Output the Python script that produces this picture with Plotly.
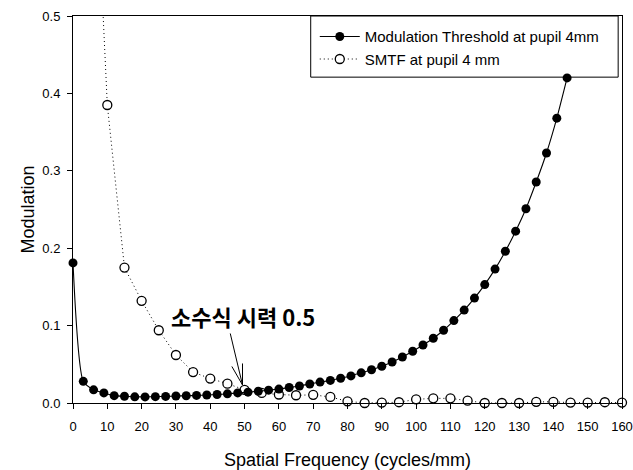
import plotly.graph_objects as go

# Modulation Threshold at pupil 4mm (filled circles)
mt_x = [0, 3, 6, 9, 12, 15, 18, 21, 24, 27, 30, 33, 36, 39, 42, 45, 48, 51, 54, 57,
        60, 63, 66, 69, 72, 75, 78, 81, 84, 87, 90, 93, 96, 99, 102, 105, 108, 111,
        114, 117, 120, 123, 126, 129, 132, 135, 138, 141, 144]
mt_y = [0.181, 0.028, 0.017, 0.013, 0.0095, 0.0087, 0.0080, 0.0079, 0.0082, 0.0085,
        0.0090, 0.0093, 0.0098, 0.0103, 0.0110, 0.0118, 0.0130, 0.0140, 0.0152, 0.0166,
        0.0180, 0.0200, 0.0220, 0.0245, 0.0270, 0.0292, 0.0320, 0.0350, 0.0390, 0.0430,
        0.0475, 0.0530, 0.0595, 0.0669, 0.0750, 0.0837, 0.0940, 0.1065, 0.1200, 0.1355,
        0.1530, 0.1730, 0.1960, 0.2220, 0.2510, 0.2855, 0.3230, 0.3680, 0.4200]

# SMTF at pupil 4 mm (open circles)
smtf_x = [5, 10, 15, 20, 25, 30, 35, 40, 45, 50, 55, 60, 65, 70, 75, 80, 85, 90, 95,
          100, 105, 110, 115, 120, 125, 130, 135, 140, 145, 150, 155, 160]
smtf_y = [0.86, 0.385, 0.175, 0.132, 0.094, 0.062, 0.040, 0.0315, 0.025, 0.017, 0.013,
          0.011, 0.010, 0.0105, 0.0078, 0.0022, 0.0, 0.0005, 0.001, 0.0047, 0.006,
          0.006, 0.003, 0.0, 0.0, 0.0, 0.0015, 0.0015, 0.0005, 0.0005, 0.001, 0.0005]

x_ticks = [0, 10, 20, 30, 40, 50, 60, 70, 80, 90, 100, 110, 120, 130, 140, 150, 160]
y_ticks = [0.0, 0.1, 0.2, 0.3, 0.4, 0.5]

name_mt = "Modulation Threshold at pupil 4mm"
name_smtf = "SMTF at pupil 4 mm"
note_text = "소수식 시력 0.5"
note_pos = (49.5, 0.1125)
arrow_tip = (49.4, 0.0233)

FONT = "Liberation Sans, Arial, sans-serif"
Y_MAX = 0.5

fig = go.Figure()

# SMTF dotted line (clipped by axes)
fig.add_trace(go.Scatter(x=smtf_x, y=smtf_y, mode="lines", showlegend=False,
                         line=dict(color="black", width=1, dash="1px,3px")))
# SMTF markers (only in-range points)
in_pts = [(x, y) for x, y in zip(smtf_x, smtf_y) if y <= Y_MAX]
fig.add_trace(go.Scatter(x=[p[0] for p in in_pts], y=[p[1] for p in in_pts], mode="markers",
                         showlegend=False, cliponaxis=False,
                         marker=dict(symbol="circle", size=9, color="white",
                                     line=dict(color="black", width=1.3))))
# Modulation threshold
fig.add_trace(go.Scatter(x=mt_x, y=mt_y, mode="lines+markers", showlegend=False,
                         cliponaxis=False,
                         line=dict(color="black", width=1.1, shape="spline", smoothing=0.6),
                         marker=dict(symbol="circle", size=9, color="black")))

# legend proxies
fig.add_trace(go.Scatter(x=[None], y=[None], mode="lines+markers", name=name_mt,
                         line=dict(color="black", width=1.2),
                         marker=dict(symbol="circle", size=9, color="black")))
fig.add_trace(go.Scatter(x=[None], y=[None], mode="lines+markers", name=name_smtf,
                         line=dict(color="black", width=1, dash="1px,3px"),
                         marker=dict(symbol="circle", size=9, color="white",
                                     line=dict(color="black", width=1.3))))

# arrow: shaft and two barbs (pixel offsets from the tip)
for ax, ay in [(-12.6, -53), (0, -23), (-11.5, -20)]:
    fig.add_annotation(x=arrow_tip[0], y=arrow_tip[1], xref="x", yref="y", text="",
                       showarrow=True, ax=ax, ay=ay, arrowhead=0, arrowwidth=1,
                       arrowcolor="black", standoff=0, startstandoff=0)
fig.add_annotation(x=note_pos[0], y=note_pos[1], xref="x", yref="y",
                   text="<b>" + note_text + "</b>", showarrow=False,
                   font=dict(family="Noto Sans CJK KR", size=22, color="black"))

# legend frame
fig.add_shape(type="rect", xref="paper", yref="paper", x0=0.433, x1=0.993, y0=0.842, y1=1.0,
              line=dict(color="black", width=1), fillcolor="white", layer="below")

axis_common = dict(showline=True, linecolor="black", linewidth=1, mirror=True,
                   ticks="outside", ticklen=5, tickcolor="black", showgrid=False,
                   zeroline=False, tickfont=dict(family=FONT, size=13, color="black"))

fig.update_xaxes(range=[0, 160], tickvals=x_ticks, ticklabeloverflow="allow",
                 ticklabelstandoff=6,
                 title=dict(text="Spatial Frequency (cycles/mm)",
                            font=dict(family=FONT, size=18, color="black"), standoff=20),
                 **axis_common)
fig.update_yaxes(range=[0, Y_MAX], tickvals=y_ticks, tickformat=".1f", ticklabelstandoff=4,
                 title=dict(text="Modulation", font=dict(family=FONT, size=18, color="black"),
                            standoff=3),
                 **axis_common)

fig.update_layout(
    width=633, height=470,
    margin=dict(l=73, r=11, t=16, b=67, autoexpand=False),
    plot_bgcolor="white", paper_bgcolor="white",
    font=dict(family=FONT, color="black"),
    legend=dict(x=0.4404, y=0.989, xanchor="left", yanchor="top",
                bgcolor="rgba(0,0,0,0)", borderwidth=0,
                font=dict(family=FONT, size=15, color="black"),
                itemwidth=40, tracegroupgap=0),
)

fig.write_html("out.html", config={"displayModeBar": False},
               post_script="document.body.style.margin='0';document.body.style.overflow='hidden';")
